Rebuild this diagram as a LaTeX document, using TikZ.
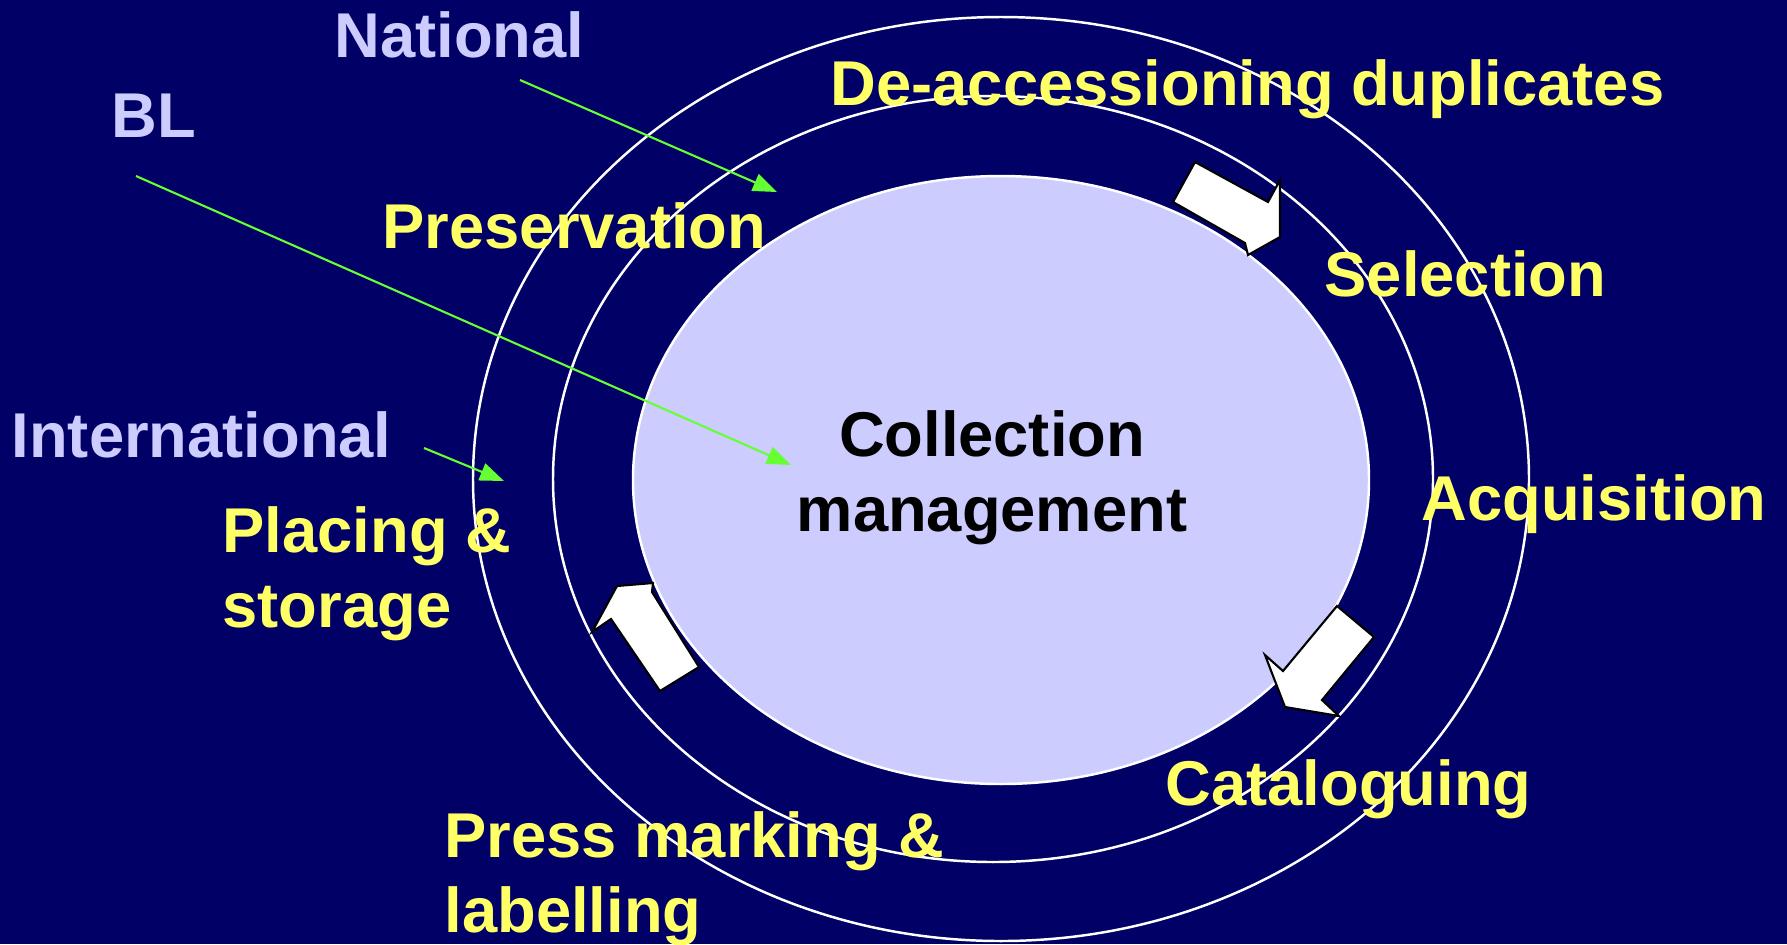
\documentclass[tikz,border=0pt]{standalone}
\usepackage{fontspec}
\setmainfont{Liberation Sans}
\usetikzlibrary{arrows.meta}
\definecolor{slidebg}{HTML}{000066}
\definecolor{lilac}{HTML}{CCCCFF}
\definecolor{stageyellow}{HTML}{FFFF66}
\definecolor{linkgreen}{HTML}{66FF33}
\tikzset{
    stagelabel/.style={
        inner sep=0,
        anchor=base west,
        font=\fontsize{18}{21.3}\selectfont\bfseries,
        text=stageyellow,
        align=left,
    },
    levellabel/.style={
        stagelabel,
        text=lilac,
    },
    ringline/.style={
        draw=white,
        line width=0.7pt,
    },
    linkarrow/.style={
        draw=linkgreen,
        line width=0.6pt,
        -{Triangle[length=0.24cm,width=0.18cm]},
    },
    flowarrow/.style={
        fill=white,
        draw=black,
        line width=0.6pt,
        line join=miter,
    },
}

\begin{document}
\begin{tikzpicture}[x=0.01cm, y=-0.01cm]
            \fill[slidebg] (0,0) rectangle (1787,944);
            \useasboundingbox (0,0) rectangle (1787,944);

            % outer and middle rings, then the core
            \draw[ringline] (1001,479) ellipse [x radius=528, y radius=462];
            \draw[ringline] (993,479) ellipse [x radius=440, y radius=383];
            \draw[ringline, fill=lilac] (1001,480) ellipse [x radius=368, y radius=304];

            % block arrows round the cycle
            \draw[flowarrow] (1195,162) -- (1268,202) -- (1280,180) -- (1280,237)
                -- (1248,255) -- (1245,243) -- (1173,202) -- cycle;
            \draw[flowarrow] (1337,606) -- (1374,637) -- (1322,700) -- (1339,716)
                -- (1285,707) -- (1265,655) -- (1283,671) -- cycle;
            \draw[flowarrow] (699,667) -- (660,691) -- (611,619) -- (592,632)
                -- (617,586) -- (653,583) -- (652,592) -- cycle;

            % (two-line nodes sit on the baseline of their last line)
            \node[levellabel] at (334,57)   (national)      {National};
            \node[levellabel] at (111,137)  (bl)            {BL};
            \node[levellabel] at (11,457)   (international) {International};

            \node[stagelabel] at (830,105)  (deaccession)   {De-accessioning duplicates};
            \node[stagelabel] at (382,248)  (preservation)  {Preservation};
            \node[stagelabel] at (1324,296) (selection)     {Selection};
            \node[stagelabel] at (1421,520) (acquisition)   {Acquisition};
            \node[stagelabel] at (1165,805) (cataloguing)   {Cataloguing};
            \node[stagelabel] at (444,932)  (pressmark)     {Press marking \&\\labelling};
            \node[stagelabel] at (222,627)  (placing)       {Placing \&\\storage};
            \node[stagelabel, text=black, anchor=base, align=center] at (992,531)
                (collection) {Collection\\management};

            \coordinate (national tail)      at (520,80);
            \coordinate (national tip)       at (777,192);
            \coordinate (bl tail)            at (136,176);
            \coordinate (bl tip)             at (791,465);
            \coordinate (international tail) at (424,448);
            \coordinate (international tip)  at (504,481);

            \draw[linkarrow] (national tail) -- (national tip);
            \draw[linkarrow] (bl tail) -- (bl tip);
            \draw[linkarrow] (international tail) -- (international tip);
        \end{tikzpicture}
\end{document}
